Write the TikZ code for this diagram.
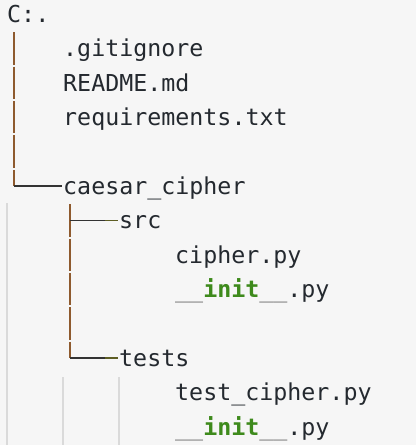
\documentclass[tikz,border=0pt]{standalone}
\usepackage{fontspec}
\setmonofont{DejaVu Sans Mono}
\usetikzlibrary{positioning}
\definecolor{codebg}{HTML}{F6F6F6}
\definecolor{codetext}{HTML}{24292F}
\definecolor{treebrown}{HTML}{8E5A2E}
\definecolor{treedark}{HTML}{333333}
\definecolor{treeolive}{HTML}{5E5E24}
\definecolor{guidegray}{HTML}{DADADA}
\definecolor{dundergray}{HTML}{707070}
\definecolor{initgreen}{HTML}{3E8A1C}
\newcommand{\dunderinit}{\textcolor{dundergray}{\_\_}\textcolor{initgreen}{\bfseries init}\textcolor{dundergray}{\_\_}}
\tikzset{
  entry/.style={
    anchor=base west, inner sep=0pt,
    font=\ttfamily\fontsize{23.3}{28}\selectfont, text=codetext
  },
  stem/.style={draw=treebrown, line width=1.8pt, dash pattern=on 32.4pt off 2pt},
  branch/.style={draw=treedark, line width=1.8pt},
  branchtip/.style={draw=treeolive, line width=1.8pt},
  guide/.style={draw=guidegray, line width=1.2pt},
}

\begin{document}
\begin{tikzpicture}[x=1pt, y=-1pt]
      \fill[codebg] (0,0) rectangle (416,445);
      \useasboundingbox (0,0) rectangle (416,445);
      % indent guides
      \draw[guide] (7,203) -- (7,445);
      \draw[guide] (63,377) -- (63,445);
      \draw[guide] (119,377) -- (119,445);
      % entries
      \node[entry](root)       at (7,22.5)    {C:.};
      \node[entry](gitignore)  at (63,56.9)   {.gitignore};
      \node[entry](readme)     at (63,91.3)   {README.md};
      \node[entry](reqs)       at (63,125.7)  {requirements.txt};
      \node[entry](caesar)     at (63,194.5)  {caesar\_cipher};
      \node[entry](src)        at (119,228.9) {src};
      \node[entry](cipher)     at (175,263.3) {cipher.py};
      \node[entry](srcinit)    at (175,297.7) {\dunderinit.py};
      \node[entry](tests)      at (119,366.5) {tests};
      \node[entry](testcipher) at (175,400.9) {test\_cipher.py};
      \node[entry](testsinit)  at (175,435.3) {\dunderinit.py};
      % tree lines
      \coordinate (stemA) at (14,32.2);
      \coordinate (stemB) at (70,204.2);
      \coordinate (caesarjoin) at ([yshift=8.5pt]caesar.base west);
      \coordinate (srcjoin)    at ([yshift=8.5pt]src.base west);
      \coordinate (testsjoin)  at ([yshift=8.5pt]tests.base west);
      \draw[stem](stemA) -- (stemA |- caesarjoin);
      \draw[branch](stemA |- caesarjoin) -- ([xshift=-1pt]caesarjoin);
      \draw[stem](stemB) -- (stemB |- testsjoin);
      \draw[branch](stemB |- srcjoin) -- ([xshift=-14pt]srcjoin);
      \draw[branchtip]([xshift=-14pt]srcjoin) -- ([xshift=-1pt]srcjoin);
      \draw[branch](stemB |- testsjoin) -- ([xshift=-14pt]testsjoin);
      \draw[branchtip]([xshift=-14pt]testsjoin) -- ([xshift=-1pt]testsjoin);
    \end{tikzpicture}
\end{document}
